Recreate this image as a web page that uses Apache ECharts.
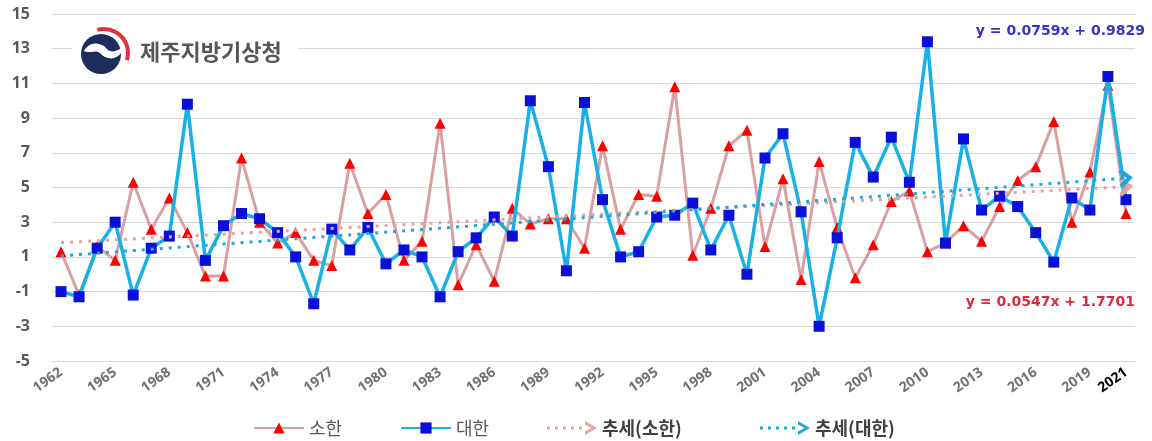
<!DOCTYPE html>
<html>
<head>
<meta charset="utf-8">
<script src="https://cdn.jsdelivr.net/npm/echarts@6/dist/echarts.min.js"></script>
<style>
  html, body { margin: 0; padding: 0; background: #fff; }
  #chart { width: 1152px; height: 441px; }
</style>
</head>
<body>
<div id="chart"></div>
<script>
// ---- data ----
const years = [];
for (let y = 1962; y <= 2021; y++) years.push(String(y));

const sohan = [1.3, -1.2, 1.6, 0.8, 5.3, 2.6, 4.4, 2.4, -0.1, -0.1,
  6.7, 3.0, 1.8, 2.4, 0.8, 0.5, 6.4, 3.5, 4.6, 0.8,
  1.9, 8.7, -0.6, 1.7, -0.4, 3.8, 2.9, 3.2, 3.2, 1.5,
  7.4, 2.6, 4.6, 4.5, 10.8, 1.1, 3.8, 7.4, 8.3, 1.6,
  5.5, -0.3, 6.5, 2.7, -0.2, 1.7, 4.2, 4.8, 1.3, 1.8,
  2.8, 1.9, 3.9, 5.4, 6.2, 8.8, 3.0, 5.9, 10.9, 3.5];

const daehan = [-1.0, -1.3, 1.5, 3.0, -1.2, 1.5, 2.2, 9.8, 0.8, 2.8,
  3.5, 3.2, 2.4, 1.0, -1.7, 2.6, 1.4, 2.7, 0.6, 1.4,
  1.0, -1.3, 1.3, 2.1, 3.3, 2.2, 10.0, 6.2, 0.2, 9.9,
  4.3, 1.0, 1.3, 3.3, 3.4, 4.1, 1.4, 3.4, 0.0, 6.7,
  8.1, 3.6, -3.0, 2.1, 7.6, 5.6, 7.9, 5.3, 13.4, 1.8,
  7.8, 3.7, 4.5, 3.9, 2.4, 0.7, 4.4, 3.7, 11.4, 4.3];

// trend line end values (at 1962 and 2021)
const trendSohan = [1.82, 5.05];
const trendDaehan = [1.06, 5.54];

const eqDaehan = 'y = 0.0759x + 0.9829';
const eqSohan = 'y = 0.0547x + 1.7701';
const seriesNames = ['소한', '대한', '추세(소한)', '추세(대한)'];
const orgName = '제주지방기상청';

// ---- chart ----
const FONT = '"Noto Sans CJK KR", "Noto Sans", sans-serif';
const NUMFONT = '"Noto Sans", sans-serif';
const EQFONT = '"DejaVu Sans", sans-serif';
const chart = echarts.init(document.getElementById('chart'));

const trendIcon = 'path://M0,5.5h3v3h-3z M8,5.5h3v3h-3z M16,5.5h3v3h-3z M24,5.5h3v3h-3z M32,5.5h3v3h-3z M38,0 L50,7 L38,14 L38,10.5 L44.5,7 L38,3.5 Z';
const chevronUp = 'path://M8,0 L16,10 L13,12 L8,5.5 L3,12 L0,10 Z';

const nulls = years.map(() => null);

function trendSeries(name, vals, color) {
  return {
    name: name,
    type: 'line',
    data: nulls,
    symbol: 'none',
    itemStyle: { color: color },
    lineStyle: { color: color, width: 3, type: [3, 6] },
    z: 5,
    silent: true,
    markLine: {
      silent: true,
      symbol: ['none', chevronUp],
      symbolSize: [20, 14],
      label: { show: false },
      lineStyle: { color: color, width: 3, type: [3, 6] },
      emphasis: { disabled: true },
      data: [[{ coord: [years[0], vals[0]] }, { coord: [years[years.length - 1], vals[1]] }]]
    }
  };
}

function legendFor(name, left, bold, icon) {
  const item = { name: name };
  if (icon) item.icon = icon;
  return {
    data: [item],
    left: left,
    top: 419,
    itemWidth: 50,
    itemHeight: 14,
    itemGap: 0,
    padding: 0,
    itemStyle: { borderWidth: 0 },
    selectedMode: false,
    textStyle: {
      fontFamily: FONT,
      fontSize: 18,
      fontWeight: bold ? 'bold' : 'normal',
      color: bold ? '#404040' : '#595959',
      padding: [0, 0, 0, 0]
    }
  };
}

chart.setOption({
  animation: false,
  backgroundColor: '#ffffff',
  grid: { left: 52, right: 17, top: 14, bottom: 80, containLabel: false },
  xAxis: {
    type: 'category',
    data: years,
    boundaryGap: true,
    axisLine: { show: false },
    axisTick: { show: false },
    axisLabel: {
      interval: (i) => i % 3 === 0 || i === years.length - 1,
      rotate: 35,
      margin: 10,
      fontFamily: NUMFONT,
      fontSize: 14,
      fontWeight: 'bold',
      color: '#707070',
      formatter: (v, i) => (i === years.length - 1 ? '{b|' + v + '}' : v),
      rich: { b: { fontFamily: NUMFONT, fontSize: 14, fontWeight: 'bold', color: '#000000' } }
    }
  },
  yAxis: {
    type: 'value',
    min: -5,
    max: 15,
    interval: 2,
    axisLine: { show: false },
    axisTick: { show: false },
    axisLabel: {
      margin: 22,
      fontFamily: NUMFONT,
      fontSize: 16,
      fontWeight: 'bold',
      color: '#595959'
    },
    splitLine: { lineStyle: { color: '#d9d9d9', width: 1 } }
  },
  legend: [
    legendFor(seriesNames[0], 253, false),
    legendFor(seriesNames[1], 400, false),
    legendFor(seriesNames[2], 547, true, trendIcon),
    legendFor(seriesNames[3], 760, true, trendIcon)
  ],
  series: [
    {
      name: seriesNames[0],
      type: 'line',
      data: sohan,
      symbol: 'triangle',
      symbolSize: 11,
      showAllSymbol: true,
      itemStyle: { color: '#ff0000' },
      lineStyle: { color: '#d9a0a2', width: 3 },
      z: 2
    },
    {
      name: seriesNames[1],
      type: 'line',
      data: daehan,
      symbol: 'rect',
      symbolSize: 11,
      showAllSymbol: true,
      itemStyle: { color: '#0a10d8' },
      lineStyle: { color: '#19b0e6', width: 3.5 },
      z: 3
    },
    trendSeries(seriesNames[2], trendSohan, '#e8a2a2'),
    trendSeries(seriesNames[3], trendDaehan, '#22a8d8')
  ],
  graphic: [
    { type: 'rect', left: 72, top: 28, shape: { width: 226, height: 48 }, style: { fill: '#ffffff' }, z: 10 },
    { type: 'circle', shape: { cx: 101, cy: 54, r: 20 }, style: { fill: '#1c2d5c' }, z: 11 },
    { type: 'polygon', shape: { points: [[84, 51], [92, 44], [102, 45], [110, 51], [118, 50], [124, 46], [122, 52], [114, 58], [105, 57], [98, 52], [90, 52]], smooth: 0.4 }, style: { fill: '#ffffff' }, z: 12 },
    { type: 'arc', shape: { cx: 104, cy: 53, r: 24, startAngle: -1.85, endAngle: 0.3 }, style: { stroke: '#e0313c', lineWidth: 4, fill: null }, z: 13 },
    { type: 'text', x: 140, y: 52, style: { text: orgName, fontFamily: FONT, fontSize: 22, fontWeight: 'bold', fill: '#575757', textVerticalAlign: 'middle' }, z: 13 },
    { type: 'text', x: 1145, y: 31, style: { text: eqDaehan, fontFamily: EQFONT, fontSize: 14, fontWeight: 'bold', fill: '#3434c8', textAlign: 'right', textVerticalAlign: 'middle' }, z: 13 },
    { type: 'text', x: 1135, y: 302, style: { text: eqSohan, fontFamily: EQFONT, fontSize: 14, fontWeight: 'bold', fill: '#e2283c', textAlign: 'right', textVerticalAlign: 'middle' }, z: 13 }
  ]
});
</script>
</body>
</html>
